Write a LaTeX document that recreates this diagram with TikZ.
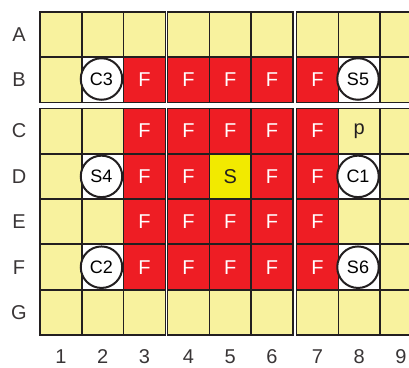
\documentclass[tikz,border=0pt]{standalone}
\usepackage{fontspec}
\setmainfont{Liberation Sans}
\usepackage{tikz}

\definecolor{cellyellow}{HTML}{F8F29E}
\definecolor{firered}{HTML}{EE1D24}
\definecolor{hotyellow}{HTML}{F2EA00}
\definecolor{gridline}{HTML}{231F20}

\begin{document}
\begin{tikzpicture}[x=1pt,y=-1pt,
  lbl/.style={font=\fontsize{20}{20}\selectfont,text=gridline!90,inner sep=0.5pt},
  fire/.style={font=\fontsize{20}{20}\selectfont,text=white},
  sensor/.style={circle,draw=gridline,line width=2pt,fill=white,minimum size=41.5pt,inner sep=0pt,font=\fontsize{18}{18}\selectfont}]
\clip (0,0) rectangle (409,367);

% pale cells everywhere
\foreach \cx in {40,81.8,123.6,167.5,209.3,251.1,296.5,338.3,380.1}
  \foreach \ry in {12,57.2,108.3,153.8,199,244.6,289.8}
    \fill[cellyellow] (\cx,\ry) rectangle ++(41.8,45.2);

% fire zone
\foreach \cx/\c in {123.6/3,167.5/4,209.3/5,251.1/6,296.5/7}
  \foreach \ry/\r in {57.2/B,108.3/C,153.8/D,199/E,244.6/F}
    \fill[firered] (\cx,\ry) rectangle ++(41.8,45.2)
      node[fire] (f\c\r) at (\cx+20.9,\ry+22.6) {F};
\fill[hotyellow] (209.3,153.8) rectangle ++(41.8,45.2);
\node[lbl,text=gridline] (s) at (230.2,176.4) {S};
\node[lbl,text=gridline] (p) at (359.2,130.9) {p};

% white cells under the sensors
\foreach \cx in {81.8,338.3}
  \foreach \ry in {57.2,153.8,244.6}
    \fill[white] (\cx,\ry) rectangle ++(41.8,45.2);

\foreach \cx in {40,81.8,123.6,167.5,209.3,251.1,296.5,338.3,380.1}
  \foreach \ry in {12,57.2,108.3,153.8,199,244.6,289.8}
    \draw[gridline,line width=1.6pt] (\cx,\ry) rectangle ++(41.8,45.2);

\node[sensor] (c3) at (101.5,79) {C3};
\node[sensor] (s4) at (101.5,176.4) {S4};
\node[sensor] (c2) at (101.5,267.2) {C2};
\node[sensor] (s5) at (358,79) {S5};
\node[sensor] (c1) at (358,176.4) {C1};
\node[sensor] (s6) at (358,267.2) {S6};

\foreach \ry/\r in {34.6/A,79.8/B,130.9/C,176.4/D,221.6/E,267.2/F,312.4/G}
  \node[lbl] (row\r) at (19,\ry) {\r};
\foreach \cx/\c in {60.9/1,102.7/2,144.5/3,188.4/4,230.2/5,272/6,317.4/7,359.2/8,401/9}
  \node[lbl] (col\c) at (\cx,357) {\c};
\end{tikzpicture}
\end{document}
